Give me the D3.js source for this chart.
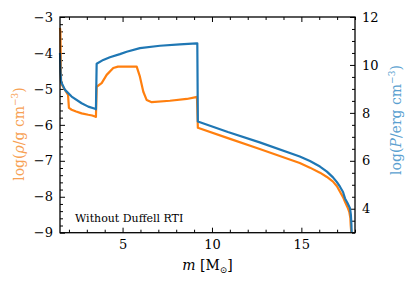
<!DOCTYPE html>
<html>
<head>
<meta charset="utf-8">
<script src="https://cdn.jsdelivr.net/npm/d3@7"></script>
<style>
  body { margin: 0; background: #fff; }
  svg text { font-family: "DejaVu Serif", serif !important; }
</style>
</head>
<body>
<svg id="chart"></svg>
<script>
// density profile (orange, left axis)
const massRho = [1.5, 1.52, 1.56, 1.61, 1.78, 1.95, 2.0, 2.15, 2.4, 2.71, 3.08, 3.3, 3.46, 3.51, 3.55, 3.83, 4.11, 4.48, 4.74, 5.79, 5.97, 6.16, 6.35, 6.63, 7.65, 8.59, 9.11, 9.16, 9.21, 10.89, 12.67, 14.91, 15.48, 16.04, 16.43, 16.77, 16.99, 17.16, 17.33, 17.44, 17.58, 17.68, 17.74, 17.76, 17.79];
const logRho = [-3.3, -3.4, -4.8, -4.89, -5.03, -5.17, -5.53, -5.58, -5.63, -5.68, -5.72, -5.74, -5.77, -5.78, -4.94, -4.84, -4.61, -4.42, -4.38, -4.38, -4.66, -5.08, -5.31, -5.37, -5.33, -5.28, -5.23, -5.22, -6.08, -6.37, -6.67, -7.06, -7.19, -7.33, -7.45, -7.58, -7.71, -7.86, -8.01, -8.14, -8.29, -8.42, -8.59, -8.79, -8.98];

// pressure profile (blue, right axis)
const massP = [1.5, 1.53, 1.56, 1.78, 2.15, 2.71, 3.08, 3.46, 3.51, 3.55, 3.92, 4.29, 4.85, 5.23, 5.97, 7.09, 8.2, 9.14, 9.18, 9.21, 10.89, 12.67, 14.91, 15.48, 16.04, 16.43, 16.77, 16.99, 17.16, 17.33, 17.44, 17.58, 17.72, 17.77, 17.8, 17.81];
const logP = [10.5, 9.7, 9.3, 8.96, 8.68, 8.4, 8.26, 8.17, 8.15, 10.05, 10.21, 10.32, 10.45, 10.55, 10.7, 10.8, 10.86, 10.9, 10.9, 7.64, 7.2, 6.77, 6.18, 5.99, 5.76, 5.55, 5.31, 5.11, 4.92, 4.7, 4.43, 4.24, 4.02, 3.74, 3.32, 3.03];

const xTicks = [5, 10, 15];
const rhoTicks = [-9, -8, -7, -6, -5, -4, -3];
const pTicks = [4, 6, 8, 10, 12];

const width = 411, height = 286;
const margin = { top: 17, right: 56, bottom: 53.3, left: 60 };

const svg = d3.select("#chart")
    .attr("width", width)
    .attr("height", height);

const x = d3.scaleLinear().domain([1.5, 18]).range([margin.left, width - margin.right]);
const yRho = d3.scaleLinear().domain([-9, -3]).range([height - margin.bottom, margin.top]);
const yP = d3.scaleLinear().domain([3, 12]).range([height - margin.bottom, margin.top]);

const minorX = d3.range(2, 19, 1).filter(v => !xTicks.includes(v));
const minorRho = d3.range(-9, -2.99, 0.2).map(v => +v.toFixed(1)).filter(v => !rhoTicks.includes(v));
const minorP = d3.range(3, 12.01, 0.5).filter(v => !pTicks.includes(v));

// axes with ticks pointing inward
function styleAxis(g) {
    g.attr("font-family", null);
    g.select(".domain").remove();
    g.selectAll("line").attr("stroke", "#000").attr("stroke-width", 1);
    g.selectAll("text").attr("font-size", "13px").attr("fill", "#000");
}

const bottomY = height - margin.bottom;
svg.append("g").attr("transform", `translate(0,${bottomY})`)
    .call(d3.axisBottom(x).tickValues(xTicks).tickFormat(d3.format("d")).tickSizeInner(-5).tickSizeOuter(0).tickPadding(7))
    .call(styleAxis);
svg.append("g").attr("transform", `translate(0,${bottomY})`)
    .call(d3.axisBottom(x).tickValues(minorX).tickFormat("").tickSizeInner(-3).tickSizeOuter(0))
    .call(styleAxis);
svg.append("g").attr("transform", `translate(0,${margin.top})`)
    .call(d3.axisTop(x).tickValues(xTicks).tickFormat("").tickSizeInner(-5).tickSizeOuter(0))
    .call(styleAxis);
svg.append("g").attr("transform", `translate(0,${margin.top})`)
    .call(d3.axisTop(x).tickValues(minorX).tickFormat("").tickSizeInner(-3).tickSizeOuter(0))
    .call(styleAxis);

svg.append("g").attr("transform", `translate(${margin.left},0)`)
    .call(d3.axisLeft(yRho).tickValues(rhoTicks).tickFormat(d3.format("d")).tickSizeInner(-5).tickSizeOuter(0).tickPadding(7))
    .call(styleAxis);
svg.append("g").attr("transform", `translate(${margin.left},0)`)
    .call(d3.axisLeft(yRho).tickValues(minorRho).tickFormat("").tickSizeInner(-3).tickSizeOuter(0))
    .call(styleAxis);

const rightX = width - margin.right;
svg.append("g").attr("transform", `translate(${rightX},0)`)
    .call(d3.axisRight(yP).tickValues(pTicks).tickFormat(d3.format("d")).tickSizeInner(-5).tickSizeOuter(0).tickPadding(7))
    .call(styleAxis);
svg.append("g").attr("transform", `translate(${rightX},0)`)
    .call(d3.axisRight(yP).tickValues(minorP).tickFormat("").tickSizeInner(-3).tickSizeOuter(0))
    .call(styleAxis);

// lines
const rhoLine = d3.line().x((d, i) => x(massRho[i])).y(d => yRho(d));
const pLine = d3.line().x((d, i) => x(massP[i])).y(d => yP(d));

svg.append("path")
    .datum(logRho)
    .attr("d", rhoLine)
    .attr("fill", "none")
    .attr("stroke", "#ff7f0e")
    .attr("stroke-width", 2.2)
    .attr("stroke-linejoin", "round");

svg.append("path")
    .datum(logP)
    .attr("d", pLine)
    .attr("fill", "none")
    .attr("stroke", "#1f77b4")
    .attr("stroke-width", 2.2)
    .attr("stroke-linejoin", "round");

// frame
svg.append("rect")
    .attr("x", margin.left)
    .attr("y", margin.top)
    .attr("width", rightX - margin.left)
    .attr("height", bottomY - margin.top)
    .attr("fill", "none")
    .attr("stroke", "#000")
    .attr("stroke-width", 1.3);

// labels
const xLabel = svg.append("text")
    .attr("x", (margin.left + rightX) / 2)
    .attr("y", 270)
    .attr("text-anchor", "middle")
    .attr("font-size", "14px");
xLabel.append("tspan").attr("font-style", "italic").text("m");
xLabel.append("tspan").text(" [M");
xLabel.append("tspan").attr("font-size", "9px").attr("dy", 3).text("⊙");
xLabel.append("tspan").attr("dy", -3).text("]");

const rhoLabel = svg.append("text")
    .attr("transform", "translate(24,134) rotate(-90)")
    .attr("text-anchor", "middle")
    .attr("font-size", "14px")
    .attr("fill", "#f7a154");
rhoLabel.append("tspan").text("log(");
rhoLabel.append("tspan").attr("font-style", "italic").text("ρ");
rhoLabel.append("tspan").text("/g cm");
rhoLabel.append("tspan").attr("font-size", "9px").attr("dy", -6).text("−3");
rhoLabel.append("tspan").attr("dy", 6).text(")");

const pLabel = svg.append("text")
    .attr("transform", "translate(401,120) rotate(-90)")
    .attr("text-anchor", "middle")
    .attr("font-size", "14px")
    .attr("fill", "#5a9fd0");
pLabel.append("tspan").text("log(");
pLabel.append("tspan").attr("font-style", "italic").text("P");
pLabel.append("tspan").text("/erg cm");
pLabel.append("tspan").attr("font-size", "9px").attr("dy", -6).text("−3");
pLabel.append("tspan").attr("dy", 6).text(")");

svg.append("text")
    .attr("x", 75)
    .attr("y", 222)
    .attr("font-size", "11px")
    .text("Without Duffell RTI");
</script>
</body>
</html>
